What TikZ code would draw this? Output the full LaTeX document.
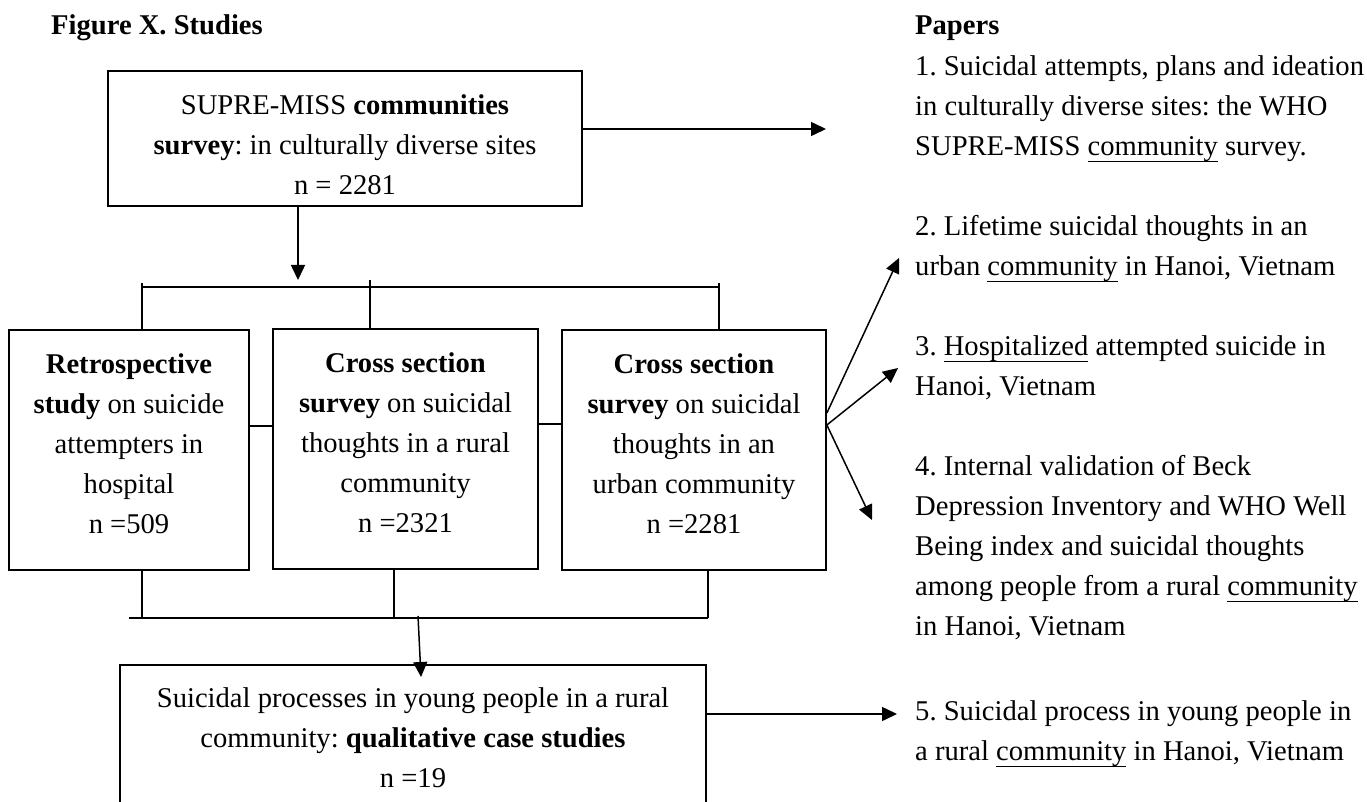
\documentclass[tikz,border=0pt]{standalone}
\usepackage{fontspec}
\setmainfont{Liberation Serif}
\usetikzlibrary{arrows.meta,calc}
\frenchspacing
\newcommand{\boxbody}[4]{\parbox[c][#2][t]{#1}{\centering\vspace*{#3}\rule{0pt}{21pt}#4\par}}
\newcommand{\ulword}[1]{\setbox0\hbox{#1}\rlap{\raisebox{-7.2pt}{\rule{\wd0}{1.5pt}}}\box0\relax}
\begin{document}
\begin{tikzpicture}[x=1pt,y=-1pt,
  every node/.style={font=\fontsize{28.6}{40}\selectfont, inner sep=0pt},
  stbox/.style={draw, line width=1.7pt},
  ln/.style={line width=1.5pt},
  arr/.style={line width=1.5pt, -{Triangle[length=15pt,width=14pt]}},
  ptext/.style={anchor=north west, align=left}]
\fill[white] (0,0) rectangle (1367,802);
\path[use as bounding box] (0,0) rectangle (1367,802);
\clip (0,0) rectangle (1367,802);

% titles
\node[anchor=base west] (fig) at (51,35) {\bfseries Figure X. Studies};
\node[anchor=base west] (pap) at (915,35) {\bfseries Papers};

% study boxes
\node[stbox] (top) at (345,138.5) {\boxbody{474pt}{135pt}{23pt}{SUPRE-MISS \textbf{communities}\\\textbf{survey}: in culturally diverse sites\\n = 2281}};
\node[stbox] (left) at (129,450) {\boxbody{240pt}{240pt}{22pt}{\textbf{Retrospective}\\\textbf{study} on suicide\\attempters in\\hospital\\n =509}};
\node[stbox] (mid) at (405.5,449) {\boxbody{265pt}{240pt}{22pt}{\textbf{Cross section}\\\textbf{survey} on suicidal\\thoughts in a rural\\community\\n =2321}};
\node[stbox] (right) at (694,450) {\boxbody{264pt}{240pt}{22pt}{\textbf{Cross section}\\\textbf{survey} on suicidal\\thoughts in an\\urban community\\n =2281}};
\node[stbox] (bottom) at (413,747.5) {\boxbody{586pt}{165pt}{21pt}{Suicidal processes in young people in a rural\\community: \textbf{qualitative case studies}\\n =19}};

% papers
\node[ptext] (p1) at (915,53) {\rule{0pt}{22pt}1. Suicidal attempts, plans and ideation\\in culturally diverse sites: the WHO\\SUPRE-MISS \ulword{community} survey.};
\node[ptext] (p2) at (915,213) {\rule{0pt}{22pt}2. Lifetime suicidal thoughts in an\\urban \ulword{community} in Hanoi, Vietnam};
\node[ptext] (p3) at (915,333) {\rule{0pt}{22pt}3. \ulword{Hospitalized} attempted suicide in\\Hanoi, Vietnam};
\node[ptext] (p4) at (915,453) {\rule{0pt}{22pt}4. Internal validation of Beck\\Depression Inventory and WHO Well\\Being index and suicidal thoughts\\among people from a rural \ulword{community}\\in Hanoi, Vietnam};
\node[ptext] (p5) at (915,698) {\rule{0pt}{22pt}5. Suicidal process in young people in\\a rural \ulword{community} in Hanoi, Vietnam};

% junction coordinates
\coordinate (dn) at (298,280);
\coordinate (barL) at (142,287);
\coordinate (barR) at (719,287);
\coordinate (t1) at (142,283);
\coordinate (t2) at (370,280);
\coordinate (t3) at (719,283);
\coordinate (h1) at (0,426);
\coordinate (h2) at (0,424);
\coordinate (u1) at (142,618);
\coordinate (u2) at (394,618);
\coordinate (u3) at (708,618);
\coordinate (b1) at (129,618);
\coordinate (dsrc) at (418,616);
\coordinate (dtip) at (421,677);
\coordinate (a1) at (826,129);
\coordinate (r1) at (0,413);
\coordinate (r2) at (0,425);
\coordinate (a2) at (899,258);
\coordinate (a3) at (898,368);
\coordinate (a4) at (872,520);
\coordinate (a5) at (897,714);

% connectors: top to studies
\draw[arr] (top.south -| dn) -- (dn);
\draw[ln] (barL) -- (barR);
\draw[ln] (t1) -- (t1 |- left.north);
\draw[ln] (t2) -- (t2 |- mid.north);
\draw[ln] (t3) -- (t3 |- right.north);
\draw[ln] (left.east |- h1) -- (mid.west |- h1);
\draw[ln] (mid.east |- h2) -- (right.west |- h2);

% studies to bottom
\draw[ln] (u1 |- left.south) -- (u1);
\draw[ln] ([yshift=2pt]u2 |- mid.south) -- (u2);
\draw[ln] (u3 |- right.south) -- (u3);
\draw[ln] (b1) -- (u3);
\draw[arr] (dsrc) -- (dtip);

% to papers
\draw[arr] (top.east |- a1) -- (a1);
\draw[arr] (right.east |- r1) -- (a2);
\draw[arr] (right.east |- r2) -- (a3);
\draw[arr] (right.east |- r2) -- (a4);
\draw[arr] (bottom.east |- a5) -- (a5);
\end{tikzpicture}
\end{document}
